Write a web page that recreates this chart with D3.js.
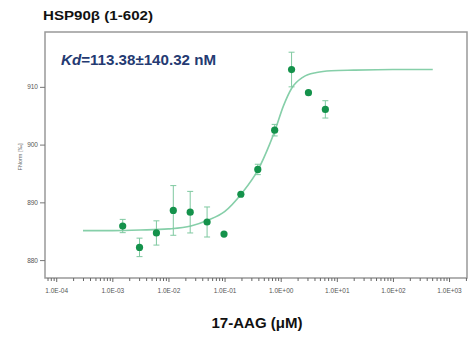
<!DOCTYPE html>
<html>
<head>
<meta charset="utf-8">
<script src="https://cdn.jsdelivr.net/npm/d3@7"></script>
<style>
  body { margin: 0; background: #fff; }
  text { font-family: Arial, "Liberation Sans", sans-serif; }
</style>
</head>
<body>
<script>
// measured points (concentration in uM)
const conc = [0.00153, 0.00305, 0.0061, 0.0122, 0.0244, 0.0488, 0.0977, 0.195, 0.391, 0.781, 1.5625, 3.125, 6.25];
const fnorm = [885.9, 882.2, 884.7, 888.6, 888.3, 886.6, 884.5, 891.4, 895.7, 902.5, 913.0, 909.0, 906.1];
const errs = [1.15, 1.6, 2.1, 4.3, 3.6, 2.6, 0, 0, 0.9, 1.0, 3.0, 0, 1.5];

// fitted curve
const fitConc = [0.0003, 0.001, 0.00316, 0.01, 0.0251, 0.0501, 0.1, 0.2, 0.398, 0.631, 0.794, 1.12, 1.58, 2.51, 4.37, 7.94, 20, 100, 513];
const fitVal = [885.1, 885.1, 885.2, 885.4, 885.9, 886.9, 888.4, 891.5, 895.7, 900.0, 902.5, 906.7, 909.8, 911.7, 912.5, 912.8, 912.9, 913.0, 913.0];

const yTicks = [880, 890, 900, 910];
const xDecades = [1e-4, 1e-3, 1e-2, 1e-1, 1, 10, 100, 1000];

const width = 469, height = 340;
const plotLeft = 45, plotRight = 467, plotTop = 32, plotBottom = 278;

const svg = d3.select('body').append('svg')
  .attr('width', width)
  .attr('height', height);

const x = d3.scaleLog()
  .domain([Math.pow(10, -4.2), Math.pow(10, 3.32)])
  .range([plotLeft, plotRight]);

const y = d3.scaleLinear()
  .domain([876.9, 919.5])
  .range([plotBottom, plotTop]);

// frame
svg.append('rect')
  .attr('x', plotLeft).attr('y', plotTop)
  .attr('width', plotRight - plotLeft).attr('height', plotBottom - plotTop)
  .attr('fill', 'none')
  .attr('stroke', '#999')
  .attr('stroke-width', 1.5);

// x axis: minor ticks 2..9 plus decades
const minor = [];
[1e-5].concat(xDecades).forEach(d => {
  for (let k = 2; k <= 9; k++) {
    const v = d * k;
    if (v >= x.domain()[0] && v <= x.domain()[1]) minor.push(v);
  }
});

const fmt = v => {
  const e = Math.round(Math.log10(v));
  const s = e < 0 ? '-' : '+';
  return '1.0E' + s + String(Math.abs(e)).padStart(2, '0');
};

svg.append('g')
  .attr('transform', `translate(0,${plotBottom})`)
  .call(d3.axisBottom(x).tickValues(minor).tickSize(3).tickFormat(''))
  .call(g => g.select('.domain').remove())
  .call(g => g.selectAll('line').attr('stroke', '#666'));

svg.append('g')
  .attr('transform', `translate(0,${plotBottom})`)
  .call(d3.axisBottom(x).tickValues(xDecades).tickSize(4).tickPadding(6).tickFormat(fmt))
  .call(g => g.select('.domain').remove())
  .call(g => g.selectAll('line').attr('stroke', '#666'))
  .call(g => g.selectAll('text')
    .attr('fill', '#555')
    .style('font-size', '6.5px')
    .style('font-family', 'Arial, "Liberation Sans", sans-serif'));

// y axis
svg.append('g')
  .attr('transform', `translate(${plotLeft},0)`)
  .call(d3.axisLeft(y).tickValues(yTicks).tickSize(5).tickPadding(2))
  .call(g => g.select('.domain').remove())
  .call(g => g.selectAll('line').attr('stroke', '#777'))
  .call(g => g.selectAll('text')
    .attr('fill', '#555')
    .style('font-size', '6.5px')
    .style('font-family', 'Arial, "Liberation Sans", sans-serif'));

svg.append('text')
  .attr('transform', `translate(22,${(plotTop + plotBottom) / 2 + 2}) rotate(-90)`)
  .attr('text-anchor', 'middle')
  .attr('fill', '#666')
  .style('font-size', '5.5px')
  .text('FNorm [‰]');

// fit line
const line = d3.line()
  .x((d, i) => x(fitConc[i]))
  .y(d => y(d))
  .curve(d3.curveMonotoneX);

svg.append('path')
  .datum(fitVal)
  .attr('d', line)
  .attr('fill', 'none')
  .attr('stroke', '#86cfa9')
  .attr('stroke-width', 1.6);

// error bars
const pts = conc.map((c, i) => ({ c, v: fnorm[i], e: errs[i] }));
const withErr = pts.filter(d => d.e > 0);
const eb = svg.append('g')
  .attr('stroke', '#7fc9a0')
  .attr('stroke-width', 1);

eb.selectAll('line.v')
  .data(withErr)
  .enter().append('line')
  .attr('x1', d => x(d.c)).attr('x2', d => x(d.c))
  .attr('y1', d => y(d.v - d.e)).attr('y2', d => y(d.v + d.e));

[-1, 1].forEach(sign => {
  eb.selectAll('line.cap' + (sign > 0 ? 'hi' : 'lo'))
    .data(withErr)
    .enter().append('line')
    .attr('x1', d => x(d.c) - 3).attr('x2', d => x(d.c) + 3)
    .attr('y1', d => y(d.v + sign * d.e))
    .attr('y2', d => y(d.v + sign * d.e));
});

// points
svg.selectAll('circle')
  .data(pts)
  .enter().append('circle')
  .attr('cx', d => x(d.c))
  .attr('cy', d => y(d.v))
  .attr('r', 3.6)
  .attr('fill', '#14924b');

// texts
svg.append('text')
  .attr('x', 43).attr('y', 20)
  .attr('fill', '#111')
  .attr('textLength', 110)
  .attr('lengthAdjust', 'spacingAndGlyphs')
  .style('font-size', '13.5px')
  .style('font-weight', 'bold')
  .text('HSP90β (1-602)');

const kd = svg.append('text')
  .attr('x', 61).attr('y', 65)
  .attr('fill', '#243a72')
  .attr('textLength', 155)
  .attr('lengthAdjust', 'spacingAndGlyphs')
  .style('font-size', '14px')
  .style('font-weight', 'bold');
kd.append('tspan').style('font-style', 'italic').text('Kd');
kd.append('tspan').text('=113.38±140.32 nM');

svg.append('text')
  .attr('x', 257).attr('y', 328)
  .attr('text-anchor', 'middle')
  .attr('fill', '#111')
  .attr('textLength', 91)
  .attr('lengthAdjust', 'spacingAndGlyphs')
  .style('font-size', '14px')
  .style('font-weight', 'bold')
  .text('17-AAG (μM)');
</script>
</body>
</html>
